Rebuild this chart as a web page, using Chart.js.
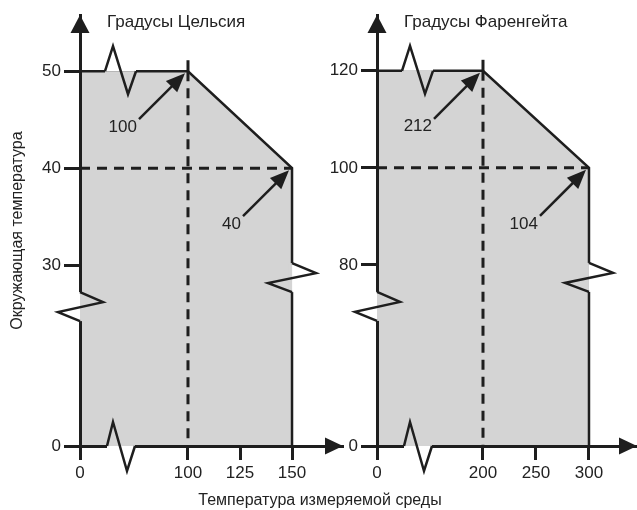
<!DOCTYPE html>
<html lang="ru">
<head>
<meta charset="utf-8">
<title>Градусы Цельсия / Фаренгейта</title>
<script src="https://cdn.jsdelivr.net/npm/chart.js@4.4.1/dist/chart.umd.min.js"></script>
<style>
  html, body { margin: 0; padding: 0; background: #fff; }
  #wrap { position: relative; width: 637px; height: 510px; }
  #wrap canvas { position: absolute; left: 0; top: 0; }
</style>
</head>
<body>
<div id="wrap">
  <canvas id="celsius" width="637" height="510"></canvas>
  <canvas id="fahrenheit" width="637" height="510"></canvas>
</div>
<script>
// Значения
const celsiusMeasured = [0, 100, 150, 150];
const celsiusAmbient = [50, 50, 40, 0];
const celsiusXTicks = [0, 100, 125, 150];
const celsiusYTicks = [0, 30, 40, 50];
const celsiusNotes = ['', '100', '40', ''];

const fahrMeasured = [0, 200, 300, 300];
const fahrAmbient = [120, 120, 100, 0];
const fahrXTicks = [0, 200, 250, 300];
const fahrYTicks = [0, 80, 100, 120];
const fahrNotes = ['', '212', '104', ''];

const ink = '#1e1e1e';
const textColor = '#222';
const fillGray = '#d4d4d4';
const family = "'Liberation Sans', Arial, sans-serif";

// ось с разрывом: всё, что ниже `at`, сжато
const broken = (at, squeeze) => v => v <= at ? v * squeeze : at * squeeze + (v - at);

// наконечник стрелки
function head(ctx, tx, ty, ang, len, half) {
    const c = Math.cos(ang), s = Math.sin(ang);
    ctx.beginPath();
    ctx.moveTo(tx, ty);
    ctx.lineTo(tx - len * c + half * s, ty - len * s - half * c);
    ctx.lineTo(tx - len * c - half * s, ty - len * s + half * c);
    ctx.closePath();
    ctx.fill();
}

// закрашиваем кусок прямой линии под значком разрыва
function cut(ctx, x1, y1, x2, y2, colA, colB) {
    const w = 3.5;
    if (y1 === y2) {
        ctx.fillStyle = colA; ctx.fillRect(x1, y1 - w, x2 - x1, w);
        ctx.fillStyle = colB; ctx.fillRect(x1, y1, x2 - x1, w);
    } else {
        ctx.fillStyle = colA; ctx.fillRect(x1 - w, y1, w, y2 - y1);
        ctx.fillStyle = colB; ctx.fillRect(x1, y1, w, y2 - y1);
    }
}

function zig(ctx, ax, ay, pts) {
    ctx.beginPath();
    pts.forEach(([dx, dy], i) => i ? ctx.lineTo(ax + dx, ay + dy) : ctx.moveTo(ax + dx, ay + dy));
    ctx.stroke();
}

function makeDecor(o) {
    return {
        id: 'decor',
        afterDraw(chart) {
            const { ctx, chartArea } = chart;
            const xs = chart.scales.x, ys = chart.scales.y;
            const px = v => xs.getPixelForValue(o.mapX(v));
            const py = v => ys.getPixelForValue(o.mapY(v));
            const L = px(0), B = py(0), T = py(o.ambient[0]);
            const R = px(o.measured[2]), Yb = py(o.yTicks[1]), Xc = px(o.measured[1]);

            ctx.save();
            ctx.strokeStyle = ink;
            ctx.fillStyle = ink;
            ctx.lineJoin = 'miter';

            // значки разрыва
            const tops = [[25, 0], [33, -25], [48, 23], [56, 0]];
            const bottoms = [[27, 0], [33, -24], [47, 25], [55, 0]];
            const lefts = [[0, 27], [23, 37], [-22, 47], [0, 56]];
            const rights = [[0, -2], [24, 8], [-24, 18], [0, 27]];
            cut(ctx, L + 25, T, L + 56, T, '#fff', fillGray);
            cut(ctx, L + 27, B, L + 55, B, fillGray, '#fff');
            cut(ctx, L, Yb + 27, L, Yb + 56, '#fff', fillGray);
            cut(ctx, R, Yb - 2, R, Yb + 27, fillGray, '#fff');
            ctx.fillStyle = ink;
            ctx.lineWidth = 2.5;
            zig(ctx, L, T, tops);
            zig(ctx, L, B, bottoms);
            zig(ctx, L, Yb, lefts);
            zig(ctx, R, Yb, rights);

            // короткий штрих над вертикальной пунктирной линией
            ctx.lineWidth = 3;
            ctx.beginPath();
            ctx.moveTo(Xc, T);
            ctx.lineTo(Xc, T - 11);
            ctx.stroke();

            // стрелки осей
            head(ctx, L, chartArea.top, -Math.PI / 2, 18, 9.5);
            head(ctx, chartArea.right, B, 0, 18, 8.5);

            // выноски
            const meta = chart.getDatasetMeta(0);
            ctx.font = '17px ' + family;
            ctx.textAlign = 'right';
            ctx.textBaseline = 'middle';
            o.notes.forEach((note, i) => {
                if (!note) return;
                const p = meta.data[i];
                const tx = p.x - 3, ty = p.y + 2;
                const sx = tx - 46, sy = ty + 46;
                const ang = Math.atan2(ty - sy, tx - sx);
                ctx.lineWidth = 2.5;
                ctx.beginPath();
                ctx.moveTo(sx, sy);
                ctx.lineTo(tx - 14 * Math.cos(ang), ty - 14 * Math.sin(ang));
                ctx.stroke();
                ctx.fillStyle = ink;
                head(ctx, tx, ty, ang, 19, 8);
                ctx.fillStyle = textColor;
                ctx.fillText(note, sx - 2, sy + 8);
            });

            // заголовки
            ctx.fillStyle = textColor;
            ctx.textAlign = 'left';
            ctx.textBaseline = 'alphabetic';
            ctx.font = '17px ' + family;
            ctx.fillText(o.title, L + 27, 27);
            if (o.bottomTitle) {
                ctx.textAlign = 'center';
                ctx.font = '16px ' + family;
                ctx.fillText(o.bottomTitle, 320, 505);
            }
            ctx.restore();
        }
    };
}

function panel(id, o) {
    const mx = o.mapX, my = o.mapY;
    const pts = o.measured.map((x, i) => ({ x: mx(x), y: my(o.ambient[i]) }));
    const xc = o.measured[1], yc = o.ambient[2];
    const tickFont = { family: family, size: 17 };

    return new Chart(document.getElementById(id), {
        type: 'line',
        data: {
            datasets: [
                {
                    data: pts, order: 2,
                    borderColor: ink, borderWidth: 2.5, backgroundColor: fillGray,
                    fill: 'origin', pointRadius: 0, tension: 0
                },
                {
                    data: [{ x: mx(0), y: my(yc) }, { x: mx(o.measured[2]), y: my(yc) }], order: 1,
                    borderColor: ink, borderWidth: 3, borderDash: [10, 7], pointRadius: 0, fill: false
                },
                {
                    data: [{ x: mx(xc), y: my(o.ambient[1]) }, { x: mx(xc), y: my(0) }], order: 1,
                    borderColor: ink, borderWidth: 3, borderDash: [10, 7], pointRadius: 0, fill: false
                }
            ]
        },
        options: {
            responsive: false,
            animation: false,
            events: [],
            layout: { padding: o.padding },
            plugins: { legend: { display: false }, tooltip: { enabled: false } },
            scales: {
                x: {
                    type: 'linear', min: 0, max: mx(o.xEnd),
                    afterBuildTicks: s => { s.ticks = o.xTicks.map(v => ({ value: mx(v) })); },
                    afterFit: s => { s.height = 64; },
                    ticks: {
                        autoSkip: false, maxRotation: 0, padding: 3, color: textColor, font: tickFont,
                        callback: (v, i) => String(o.xTicks[i])
                    },
                    grid: { drawOnChartArea: false, tickLength: 14, tickWidth: 3, tickColor: ink },
                    border: { display: true, color: ink, width: 3, z: 1 }
                },
                y: {
                    type: 'linear', min: 0, max: my(o.yEnd),
                    afterBuildTicks: s => { s.ticks = o.yTicks.map(v => ({ value: my(v) })); },
                    afterFit: s => { s.width = o.yWidth; },
                    ticks: {
                        autoSkip: false, padding: 3, color: textColor, font: tickFont,
                        callback: (v, i) => String(o.yTicks[i])
                    },
                    grid: { drawOnChartArea: false, tickLength: 16, tickWidth: 3, tickColor: ink },
                    border: { display: true, color: ink, width: 3, z: 1 },
                    title: {
                        display: !!o.yTitle, text: o.yTitle || '', color: textColor,
                        font: { family: family, size: 16 }, padding: { top: 7.5, bottom: 0 }
                    }
                }
            }
        },
        plugins: [makeDecor(o)]
    });
}

panel('celsius', {
    measured: celsiusMeasured, ambient: celsiusAmbient,
    xTicks: celsiusXTicks, yTicks: celsiusYTicks, notes: celsiusNotes,
    mapX: broken(100, 0.519), mapY: broken(30, 0.622),
    xEnd: 174.5, yEnd: 55.8,
    padding: { left: 0, top: 15, right: 294, bottom: 0 }, yWidth: 80,
    title: 'Градусы Цельсия',
    yTitle: 'Окружающая температура',
    bottomTitle: 'Температура измеряемой среды'
});

panel('fahrenheit', {
    measured: fahrMeasured, ambient: fahrAmbient,
    xTicks: fahrXTicks, yTicks: fahrYTicks, notes: fahrNotes,
    mapX: broken(200, 0.5), mapY: broken(80, 0.4665),
    xEnd: 345.3, yEnd: 131.5,
    padding: { left: 300, top: 15, right: 0, bottom: 0 }, yWidth: 77,
    title: 'Градусы Фаренгейта'
});
</script>
</body>
</html>
